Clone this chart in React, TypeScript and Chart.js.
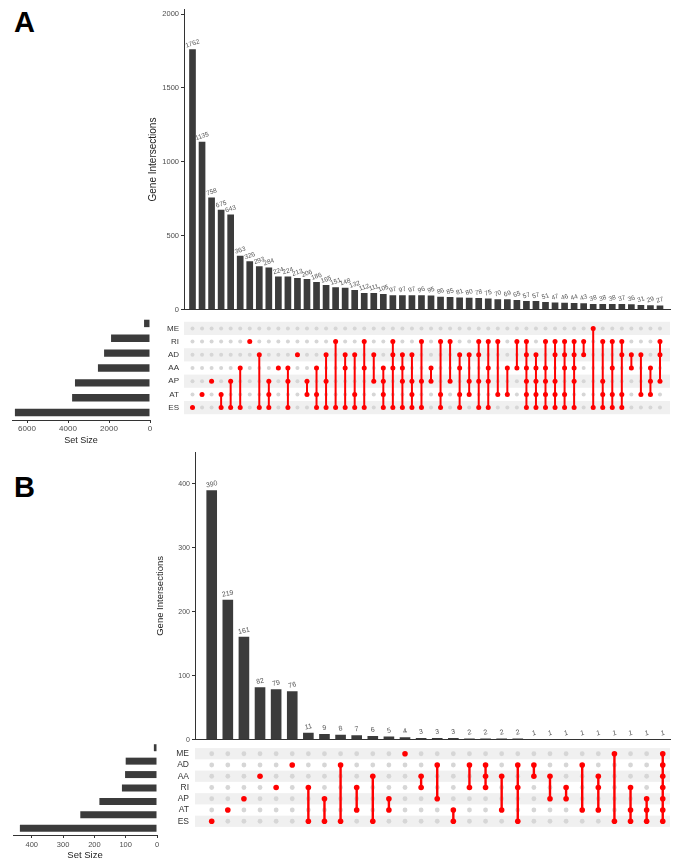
import React, { useEffect, useRef } from 'react';
import { Chart, registerables } from 'chart.js';

Chart.register(...registerables);

const FONT = '"Liberation Sans", Arial, Helvetica, sans-serif';
const BAR = '#3b3b3b';
const RED = '#ff0000';
const DOT = '#d6d6d6';
const STRIPE = '#f0f0f0';
const AXIS = '#333333';
const TICK = '#4d4d4d';

// ---------- Panel A ----------
const SETS_A = ['ME', 'RI', 'AD', 'AA', 'AP', 'AT', 'ES'];
const SET_SIZES_A = [290, 1900, 2240, 2540, 3660, 3800, 6590];
const COUNTS_A = [
  1762, 1135, 758, 675, 643, 363, 326, 293, 284, 224, 224, 213, 206, 186, 165, 151, 148, 132, 112, 111,
  105, 97, 97, 97, 96, 95, 86, 85, 81, 80, 78, 75, 70, 69, 65, 57, 57, 51, 47, 46,
  44, 43, 38, 38, 38, 37, 36, 31, 29, 27,
];
const MEMBERS_A = [
  'ES', 'AT', 'AP', 'AT ES', 'AP ES', 'AA ES', 'RI', 'AD ES', 'AP AT ES', 'AA',
  'AA AP ES', 'AD', 'AP AT', 'AA AT ES', 'AD AP ES', 'RI ES', 'AD AA ES', 'AD AT ES', 'RI AA ES', 'AD AP',
  'AA AP AT ES', 'RI AD AA ES', 'AD AA AP ES', 'AD AP AT ES', 'RI AP ES', 'AA AP', 'RI AT ES', 'RI AP', 'AD AA AT ES', 'AD AP AT',
  'RI AD AP ES', 'RI AA AP ES', 'RI AT', 'AA AT', 'RI AA', 'RI AD AA AP AT ES', 'AD AA AP AT ES', 'RI AA AP AT ES', 'RI AD AP AT ES', 'RI AD AA AT ES',
  'RI AD AA AP ES', 'RI AD', 'ME ES', 'RI AP AT ES', 'RI AA AT ES', 'RI AD AT ES', 'AD AA', 'AD AT', 'AA AP AT', 'RI AD AP',
];
const COUNT_TICKS_A = [0, 500, 1000, 1500, 2000];
const SIZE_TICKS_A = [0, 2000, 4000, 6000];

// ---------- Panel B ----------
const SETS_B = ['ME', 'AD', 'AA', 'RI', 'AP', 'AT', 'ES'];
const SET_SIZES_B = [10, 100, 102, 112, 184, 245, 438];
const COUNTS_B = [390, 219, 161, 82, 79, 76, 11, 9, 8, 7, 6, 5, 4, 3, 3, 3, 2, 2, 2, 2, 1, 1, 1, 1, 1, 1, 1, 1, 1];
const MEMBERS_B = [
  'ES', 'AT', 'AP', 'AA', 'RI', 'AD', 'RI ES', 'AP ES', 'AD ES', 'RI AT',
  'AA ES', 'AP AT', 'ME', 'AA RI', 'AD AP', 'AT ES', 'AD RI', 'AD AA RI', 'AA AT', 'AD RI ES',
  'AD AA', 'AA AP', 'RI AP', 'AD AT', 'AA RI AT', 'ME ES', 'RI AT ES', 'AP AT ES', 'ME AD AA RI AP AT ES',
];
const COUNT_TICKS_B = [0, 100, 200, 300, 400];
const SIZE_TICKS_B = [0, 100, 200, 300, 400];

const noPlugins = { legend: { display: false }, tooltip: { enabled: false } };
const plainNumber = (v: any) => String(v);

function valueLabels(size: number, angle: number, gap: number) {
  return {
    id: 'valueLabels',
    afterDatasetsDraw(chart: any) {
      const ctx = chart.ctx;
      const meta = chart.getDatasetMeta(0);
      const ds = chart.data.datasets[0].data;
      ctx.save();
      ctx.font = `${size}px ${FONT}`;
      ctx.fillStyle = '#555555';
      ctx.textAlign = 'center';
      ctx.textBaseline = 'middle';
      meta.data.forEach((el: any, i: number) => {
        ctx.save();
        ctx.translate(el.x, el.y - gap);
        ctx.rotate((angle * Math.PI) / 180);
        ctx.fillText(String(ds[i].y), 0, 0);
        ctx.restore();
      });
      ctx.restore();
    },
  };
}

function stripes(n: number) {
  return {
    id: 'stripes',
    beforeDatasetsDraw(chart: any) {
      const { ctx, chartArea } = chart;
      const y = chart.scales.y;
      ctx.save();
      ctx.fillStyle = STRIPE;
      for (let r = 0; r < n; r += 2) {
        const a = y.getPixelForValue(r - 0.5);
        const b = y.getPixelForValue(r + 0.5);
        ctx.fillRect(chartArea.left, Math.min(a, b), chartArea.right - chartArea.left, Math.abs(b - a));
      }
      ctx.restore();
    },
  };
}

function barsConfig(o: any): any {
  return {
    type: 'bar',
    data: {
      datasets: [
        {
          data: o.counts.map((v: number, i: number) => ({ x: i + 1, y: v })),
          backgroundColor: BAR,
          barPercentage: o.barPct,
          categoryPercentage: 1,
        },
      ],
    },
    options: {
      animation: false,
      responsive: false,
      layout: { padding: o.padding },
      plugins: noPlugins,
      scales: {
        x: {
          type: 'linear',
          offset: false,
          min: o.xMin,
          max: o.xMax,
          grid: { display: false },
          ticks: { display: false },
          border: { display: true, color: AXIS, width: 1 },
          afterFit: (s: any) => {
            s.height = 0;
          },
        },
        y: {
          type: 'linear',
          min: 0,
          max: o.yMax,
          afterBuildTicks: (s: any) => {
            s.ticks = o.ticks.map((v: number) => ({ value: v }));
          },
          afterFit: (s: any) => {
            s.width = o.axisWidth;
          },
          grid: { display: true, drawOnChartArea: false, drawTicks: true, tickLength: 3, color: AXIS },
          border: { display: true, color: AXIS, width: 1 },
          ticks: { color: TICK, font: { family: FONT, size: o.tickSize }, padding: 2, callback: plainNumber },
          title: {
            display: true,
            text: 'Gene Intersections',
            color: '#222222',
            font: { family: FONT, size: o.titleSize },
            padding: 0,
          },
        },
      },
    },
    plugins: [valueLabels(o.labelSize, o.labelAngle, o.labelGap)],
  };
}

function setsConfig(o: any): any {
  return {
    type: 'bar',
    data: {
      labels: o.sets,
      datasets: [{ data: o.sizes, backgroundColor: BAR, barPercentage: o.barPct, categoryPercentage: 1 }],
    },
    options: {
      indexAxis: 'y',
      animation: false,
      responsive: false,
      layout: { padding: o.padding },
      plugins: noPlugins,
      scales: {
        y: { display: false },
        x: {
          type: 'linear',
          reverse: true,
          min: 0,
          max: o.xMax,
          afterBuildTicks: (s: any) => {
            s.ticks = o.ticks.map((v: number) => ({ value: v }));
          },
          afterFit: (s: any) => {
            s.height = o.axisHeight;
          },
          grid: { display: true, drawOnChartArea: false, drawTicks: true, tickLength: 3, color: AXIS },
          border: { display: true, color: AXIS, width: 1 },
          ticks: {
            color: TICK,
            font: { family: FONT, size: o.tickSize },
            padding: o.tickPad,
            maxRotation: 0,
            autoSkip: false,
            callback: plainNumber,
          },
          title: {
            display: true,
            text: 'Set Size',
            color: '#222222',
            font: { family: FONT, size: o.titleSize },
            padding: 0,
          },
        },
      },
    },
  };
}

function matrixConfig(o: any): any {
  const grey: any[] = [];
  const red: any[] = [];
  const seg: any[] = [];
  o.members.forEach((m: string, c: number) => {
    const rows = m.split(' ').map((s) => o.sets.indexOf(s));
    o.sets.forEach((_: string, r: number) => {
      if (rows.indexOf(r) < 0) grey.push({ x: c + 1, y: r });
    });
    rows.forEach((r) => red.push({ x: c + 1, y: r }));
    if (rows.length > 1) {
      seg.push({ x: c + 1, y: Math.min(...rows) }, { x: c + 1, y: Math.max(...rows) }, { x: c + 1, y: null });
    }
  });
  return {
    type: 'scatter',
    data: {
      datasets: [
        { data: red, pointRadius: o.redR, pointHoverRadius: o.redR, backgroundColor: RED, borderWidth: 0, order: 0 },
        {
          data: seg,
          showLine: true,
          spanGaps: false,
          borderColor: RED,
          borderWidth: o.lineW,
          pointRadius: 0,
          pointHoverRadius: 0,
          order: 1,
        },
        { data: grey, pointRadius: o.greyR, pointHoverRadius: o.greyR, backgroundColor: DOT, borderWidth: 0, order: 2 },
      ],
    },
    options: {
      animation: false,
      responsive: false,
      layout: { padding: o.padding },
      plugins: noPlugins,
      scales: {
        x: { type: 'linear', display: false, min: o.xMin, max: o.xMax },
        y: {
          type: 'linear',
          reverse: true,
          min: -0.5,
          max: o.sets.length - 0.5,
          afterBuildTicks: (s: any) => {
            s.ticks = o.sets.map((_: string, i: number) => ({ value: i }));
          },
          afterFit: (s: any) => {
            s.width = o.axisWidth;
          },
          grid: { display: false, drawTicks: false },
          border: { display: false },
          ticks: {
            color: '#333333',
            font: { family: FONT, size: o.labelSize },
            padding: o.labelPad,
            callback: (v: any) => (o.sets[v] !== undefined ? o.sets[v] : ''),
          },
        },
      },
    },
    plugins: [stripes(o.sets.length)],
  };
}

function ChartCanvas({ x, y, w, h, make }: any) {
  const ref = useRef<HTMLCanvasElement | null>(null);
  useEffect(() => {
    if (!ref.current) return;
    const chart = new Chart(ref.current, make());
    return () => chart.destroy();
  }, []);
  return (
    <canvas
      ref={ref}
      width={w}
      height={h}
      style={{ position: 'absolute', left: x, top: y, width: w, height: h }}
    />
  );
}

const A_X = { xMin: 0.109, xMax: 51.05 };
const B_X = { xMin: -0.037, xMax: 29.45 };

export default function App() {
  const letter: any = {
    position: 'absolute',
    left: 14,
    fontFamily: FONT,
    fontWeight: 'bold',
    fontSize: 29,
    lineHeight: '29px',
    color: '#000',
  };
  return (
    <div style={{ position: 'absolute', left: 0, top: 0, width: 685, height: 863, background: '#fff', overflow: 'hidden' }}>
      <div style={{ ...letter, top: 8 }}>A</div>
      <div style={{ ...letter, top: 473 }}>B</div>

      <ChartCanvas
        x={130}
        y={0}
        w={550}
        h={316}
        make={() =>
          barsConfig({
            counts: COUNTS_A,
            ...A_X,
            yMax: 2030,
            ticks: COUNT_TICKS_A,
            padding: { left: 17, right: 10, top: 9.6, bottom: 6 },
            axisWidth: 37,
            barPct: 0.7,
            tickSize: 7.5,
            titleSize: 10,
            labelSize: 6.5,
            labelAngle: -18,
            labelGap: 5.5,
          })
        }
      />
      <ChartCanvas
        x={130}
        y={312}
        w={550}
        h={112}
        make={() =>
          matrixConfig({
            sets: SETS_A,
            members: MEMBERS_A,
            ...A_X,
            padding: { left: 0, right: 10, top: 4, bottom: 4 },
            axisWidth: 54,
            labelSize: 8,
            labelPad: 5,
            greyR: 2,
            redR: 2.5,
            lineW: 2,
          })
        }
      />
      <ChartCanvas
        x={0}
        y={312}
        w={160}
        h={134}
        make={() =>
          setsConfig({
            sets: SETS_A,
            sizes: SET_SIZES_A,
            xMax: 6732,
            ticks: SIZE_TICKS_A,
            padding: { left: 12, right: 10, top: 4, bottom: 0 },
            axisHeight: 26,
            barPct: 0.5,
            tickSize: 8,
            tickPad: 1,
            titleSize: 9,
          })
        }
      />

      <ChartCanvas
        x={140}
        y={440}
        w={540}
        h={306}
        make={() =>
          barsConfig({
            counts: COUNTS_B,
            ...B_X,
            yMax: 450,
            ticks: COUNT_TICKS_B,
            padding: { left: 14.3, right: 10, top: 12, bottom: 6 },
            axisWidth: 40.7,
            barPct: 0.66,
            tickSize: 7,
            titleSize: 9.5,
            labelSize: 7,
            labelAngle: -12,
            labelGap: 6,
          })
        }
      />
      <ChartCanvas
        x={140}
        y={737}
        w={540}
        h={101}
        make={() =>
          matrixConfig({
            sets: SETS_B,
            members: MEMBERS_B,
            ...B_X,
            padding: { left: 0, right: 10, top: 4, bottom: 3 },
            axisWidth: 55,
            labelSize: 8.5,
            labelPad: 6,
            greyR: 2.4,
            redR: 2.8,
            lineW: 2.4,
          })
        }
      />
      <ChartCanvas
        x={0}
        y={737}
        w={170}
        h={124}
        make={() =>
          setsConfig({
            sets: SETS_B,
            sizes: SET_SIZES_B,
            xMax: 460,
            ticks: SIZE_TICKS_B,
            padding: { left: 13, right: 13, top: 4, bottom: 0 },
            axisHeight: 26,
            barPct: 0.52,
            tickSize: 7.5,
            tickPad: 2,
            titleSize: 9.5,
          })
        }
      />
    </div>
  );
}
